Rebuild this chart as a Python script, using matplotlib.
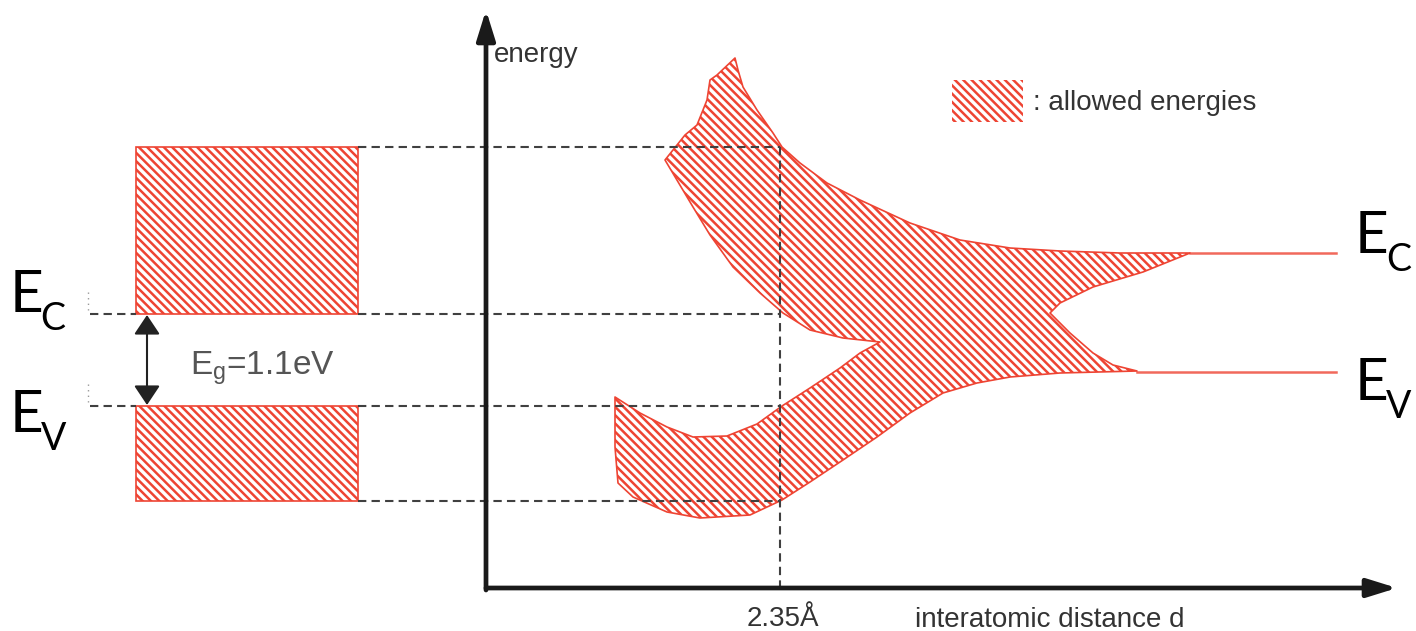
import numpy as np
import matplotlib
matplotlib.use("Agg")
import matplotlib.pyplot as plt
from matplotlib.patches import Polygon, Rectangle

# colours
red = '#ee4433'
dash_grey = '#404040'
text_grey = '#333333'

plt.rcParams['hatch.linewidth'] = 1.8
plt.rcParams['mathtext.fontset'] = 'custom'

# ---- data (drawing units: x = interatomic distance, y = energy, screen-like) ----
# outline of the allowed-energy region vs interatomic distance
band_d = [735, 738, 743, 757, 773, 782, 800, 827, 860, 910, 960, 1010, 1060, 1120, 1190,
          1143, 1093, 1060, 1050, 1070, 1093, 1113, 1137,
          1060, 1010, 977, 943, 910, 877, 843, 810, 782, 750, 700, 667, 633, 618, 615, 615,
          640, 667, 693, 727, 757, 782, 810, 840, 860, 880,
          843, 810, 783, 760, 733, 710, 693, 665,
          685, 697, 707, 710, 717, 735]
band_E = [58, 70, 87, 110, 133, 147, 163, 183, 200, 223, 240, 248, 251, 253, 253,
          272, 287, 303, 313, 333, 353, 365, 371,
          373, 377, 383, 393, 413, 437, 460, 482, 500, 515, 518, 512, 497, 483, 447, 397,
          413, 427, 437, 436, 424, 406, 388, 368, 353, 342,
          338, 330, 313, 293, 267, 235, 207, 160,
          135, 125, 100, 80, 75, 58]

# band edges at the equilibrium distance
d_eq = 780
E_cb_top = 147
E_c = 314
E_v = 406
E_vb_bottom = 501

# isolated-atom levels (large d)
E_c_atom = 253
E_v_atom = 372
d_c_atom_start = 1190
d_v_atom_start = 1137

tick_label = '2.35Å'
gap_label = r'$\mathregular{E_g}$=1.1eV'


fig = plt.figure(figsize=(14.16, 6.31), dpi=100)
ax = fig.add_axes([0, 0, 1, 1])
ax.set_xlim(0, 1416)
ax.set_ylim(631, 0)
ax.axis('off')
renderer = fig.canvas.get_renderer()

hatch = '\\\\\\\\'

# ---- left: band boxes
for top, bottom in [(E_cb_top, E_c), (E_v, E_vb_bottom)]:
    ax.add_patch(Rectangle((136, top), 222, bottom - top, facecolor='none',
                           edgecolor=red, hatch=hatch, linewidth=1.2))

# ---- right: allowed energies region
ax.add_patch(Polygon(np.column_stack([band_d, band_E]), closed=True,
                     facecolor='none', edgecolor=red, hatch=hatch, linewidth=1.2,
                     joinstyle='round'))
ax.plot([d_c_atom_start, 1336], [E_c_atom, E_c_atom], color=red, lw=1.8, alpha=0.8)
ax.plot([d_v_atom_start, 1336], [E_v_atom, E_v_atom], color=red, lw=1.8, alpha=0.8)

# ---- dashed guide lines
dash = (0, (4, 2.5))
ax.plot([358, d_eq], [E_cb_top, E_cb_top], color=dash_grey, lw=1.5, ls=dash)
ax.plot([358, d_eq], [E_vb_bottom, E_vb_bottom], color=dash_grey, lw=1.5, ls=dash)
for lvl in [E_c, E_v]:
    ax.plot([90, 136], [lvl, lvl], color=dash_grey, lw=1.5, ls=dash)
    ax.plot([358, d_eq], [lvl, lvl], color=dash_grey, lw=1.5, ls=dash)
    ax.plot([88, 88], [lvl - 22, lvl - 4], color='#999999', lw=1, ls=(0, (1, 3)))
ax.plot([d_eq, d_eq], [E_cb_top, 588], color=dash_grey, lw=1.5, ls=dash)

# ---- axes arrows
ax.annotate('', xy=(486, 10), xytext=(486, 590),
            arrowprops=dict(arrowstyle='-|>,head_length=0.9,head_width=0.28',
                            mutation_scale=20, lw=3.4, color='#1a1a1a',
                            shrinkA=0, shrinkB=0))
ax.annotate('', xy=(1397, 588), xytext=(486, 588),
            arrowprops=dict(arrowstyle='-|>,head_length=0.9,head_width=0.28',
                            mutation_scale=20, lw=3.4, color='#1a1a1a',
                            shrinkA=0, shrinkB=0))

# ---- band gap arrow
ax.annotate('', xy=(147, E_c + 1), xytext=(147, E_v - 1),
            arrowprops=dict(arrowstyle='<|-|>,head_length=0.6,head_width=0.4',
                            mutation_scale=20, lw=1.5, color='#222222',
                            shrinkA=0, shrinkB=0))
ax.text(190, 375, gap_label, fontsize=24, color='#555555',
        family='Liberation Sans', va='baseline', ha='left')

# ---- legend
ax.add_patch(Rectangle((952, 80), 71, 42, facecolor='none', edgecolor=red,
                       hatch=hatch, linewidth=0))
ax.text(1033, 110, ': allowed energies', fontsize=20, color=text_grey,
        family='Liberation Sans', va='baseline', ha='left')

# ---- axis labels
ax.text(494, 62, 'energy', fontsize=20, color=text_grey,
        family='Liberation Sans', va='baseline', ha='left')
ax.text(747, 626, tick_label, fontsize=20, color=text_grey,
        family='Liberation Sans', va='baseline', ha='left')
ax.text(915, 627, 'interatomic distance d', fontsize=20, color=text_grey,
        family='Liberation Sans', va='baseline', ha='left')


# ---- E_C / E_V labels
def level_label(x, y, sub):
    t = ax.text(x, y, 'E', fontsize=42, color='black', family='Lato',
                va='baseline', ha='left')
    bb = t.get_window_extent(renderer)
    x1 = ax.transData.inverted().transform((bb.x1, bb.y0))[0]
    ax.text(x1 - 3, y + 18, sub, fontsize=27, color='black', family='Lato',
            va='baseline', ha='left')


for x, y, s in [(10, 312, 'C'), (10, 432, 'V'), (1355, 253, 'C'), (1355, 400, 'V')]:
    level_label(x, y, s)

fig.savefig('out.png', dpi=100)
